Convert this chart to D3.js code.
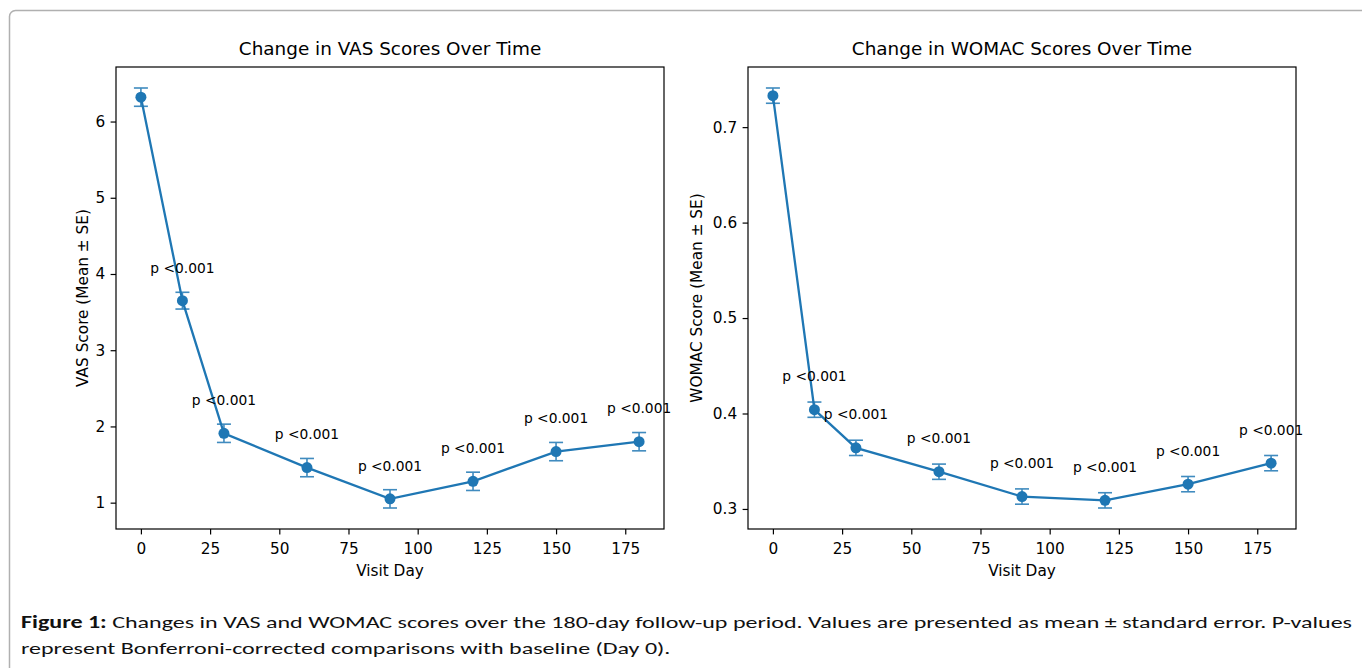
<!DOCTYPE html>
<meta charset="utf-8">
<html>
  <head>
    <style>
      body { margin: 0; background: #fff; }
      text { font-family: "DejaVu Sans", sans-serif; fill: #000; }
      .tick text { font-size: 15.3px; }
      .caption { font-family: Carlito, "Liberation Sans Narrow", Lato, "Open Sans", sans-serif; font-size: 17px; fill: #111; }
    </style>
    <script src="https://d3js.org/d3.v7.min.js"></script>
  </head>
  <body>
    <script>

      var width = 1362,
          height = 668;

      // data
      var days = [0, 15, 30, 60, 90, 120, 150, 180];
      var vasMean = [6.32, 3.65, 1.91, 1.46, 1.05, 1.28, 1.67, 1.80];
      var vasSE = [0.12, 0.11, 0.12, 0.12, 0.12, 0.12, 0.12, 0.12];
      var womacMean = [0.733, 0.404, 0.364, 0.339, 0.313, 0.309, 0.326, 0.348];
      var womacSE = [0.008, 0.008, 0.008, 0.008, 0.008, 0.008, 0.008, 0.008];
      var pLabels = ["", "p <0.001", "p <0.001", "p <0.001", "p <0.001", "p <0.001", "p <0.001", "p <0.001"];
      var xTicks = [0, 25, 50, 75, 100, 125, 150, 175];
      var vasTicks = [1, 2, 3, 4, 5, 6];
      var womacTicks = [0.3, 0.4, 0.5, 0.6, 0.7];

      var blue = "#1f77b4";

      var svg = d3.select("body").append("svg")
          .attr("width", width)
          .attr("height", height);

      // outer frame of the figure box
      svg.append("rect")
          .attr("x", 9.5).attr("y", 10.5)
          .attr("width", 1400).attr("height", 700)
          .attr("rx", 6).attr("ry", 6)
          .attr("fill", "none")
          .attr("stroke", "#b0b0b0")
          .attr("stroke-width", 1.5);

      function panel(opt) {
          var left = opt.left, right = opt.left + 548, top = 67, bottom = 529;

          var lo = d3.min(opt.mean, function(d, i) { return d - opt.se[i]; }),
              hi = d3.max(opt.mean, function(d, i) { return d + opt.se[i]; }),
              pad = (hi - lo) * 0.05;

          var x = d3.scaleLinear().domain([-9, 189]).range([left, right]);
          var y = d3.scaleLinear().domain([lo - pad, hi + pad]).range([bottom, top]);

          var g = svg.append("g");

          g.append("g")
              .attr("transform", "translate(0," + bottom + ")")
              .call(d3.axisBottom(x).tickValues(xTicks).tickSizeInner(5.4).tickSizeOuter(0).tickPadding(8.5))
              .call(function(a) { a.select(".domain").remove(); a.selectAll("line").attr("stroke-width", 1.2); });

          g.append("g")
              .attr("transform", "translate(" + left + ",0)")
              .call(d3.axisLeft(y).tickValues(opt.ticks).tickFormat(opt.fmt).tickSizeInner(5.4).tickSizeOuter(0).tickPadding(5.5))
              .call(function(a) { a.select(".domain").remove(); a.selectAll("line").attr("stroke-width", 1.2); });

          g.append("rect")
              .attr("x", left).attr("y", top)
              .attr("width", right - left).attr("height", bottom - top)
              .attr("fill", "none").attr("stroke", "#000").attr("stroke-width", 1.2);

          g.append("text")
              .attr("x", (left + right) / 2).attr("y", 55)
              .attr("text-anchor", "middle")
              .style("font-size", "18.4px")
              .text(opt.title);

          g.append("text")
              .attr("x", (left + right) / 2).attr("y", 576)
              .attr("text-anchor", "middle")
              .style("font-size", "15.3px")
              .text("Visit Day");

          g.append("text")
              .attr("transform", "translate(" + (left - opt.ylabOff) + "," + ((top + bottom) / 2) + ")rotate(-90)")
              .attr("text-anchor", "middle")
              .style("font-size", "15.3px")
              .text(opt.ylabel);

          var pts = days.map(function(d, i) { return { day: d, m: opt.mean[i], se: opt.se[i], p: pLabels[i] }; });

          g.append("path")
              .datum(pts)
              .attr("fill", "none")
              .attr("stroke", blue)
              .attr("stroke-width", 2.3)
              .attr("d", d3.line().x(function(d) { return x(d.day); }).y(function(d) { return y(d.m); }));

          var eb = g.selectAll(".eb").data(pts).enter().append("g")
              .attr("stroke", blue).attr("stroke-width", 1.6).attr("opacity", 0.85);
          eb.append("line")
              .attr("x1", function(d) { return x(d.day); }).attr("x2", function(d) { return x(d.day); })
              .attr("y1", function(d) { return y(d.m - d.se); }).attr("y2", function(d) { return y(d.m + d.se); });
          eb.append("line")
              .attr("x1", function(d) { return x(d.day) - 7; }).attr("x2", function(d) { return x(d.day) + 7; })
              .attr("y1", function(d) { return y(d.m - d.se); }).attr("y2", function(d) { return y(d.m - d.se); });
          eb.append("line")
              .attr("x1", function(d) { return x(d.day) - 7; }).attr("x2", function(d) { return x(d.day) + 7; })
              .attr("y1", function(d) { return y(d.m + d.se); }).attr("y2", function(d) { return y(d.m + d.se); });

          g.selectAll(".dot").data(pts).enter().append("circle")
              .attr("cx", function(d) { return x(d.day); })
              .attr("cy", function(d) { return y(d.m); })
              .attr("r", 5.5)
              .attr("fill", blue);

          g.selectAll(".plab").data(pts.filter(function(d) { return d.p; })).enter().append("text")
              .attr("x", function(d) { return x(d.day); })
              .attr("y", function(d) { return y(d.m + d.se + opt.pOff); })
              .attr("text-anchor", "middle")
              .style("font-size", "13.8px")
              .text(function(d) { return d.p; });
      }

      panel({ left: 116, mean: vasMean, se: vasSE, ticks: vasTicks, fmt: d3.format("d"),
              title: "Change in VAS Scores Over Time", ylabel: "VAS Score (Mean \u00b1 SE)", ylabOff: 28, pOff: 0.25 });
      panel({ left: 748, mean: womacMean, se: womacSE, ticks: womacTicks, fmt: d3.format(".1f"),
              title: "Change in WOMAC Scores Over Time", ylabel: "WOMAC Score (Mean \u00b1 SE)", ylabOff: 46, pOff: 0.022 });

      // caption
      var cap1 = svg.append("text").attr("class", "caption").attr("x", 21).attr("y", 628);
      cap1.append("tspan").style("font-weight", "bold").text("Figure 1:");
      cap1.append("tspan").text(" Changes in VAS and WOMAC scores over the 180-day follow-up period. Values are presented as mean \u00b1 standard error. P-values");
      var cap2 = svg.append("text").attr("class", "caption").attr("x", 21).attr("y", 654)
          .text("represent Bonferroni-corrected comparisons with baseline (Day 0).");

      // fit caption lines to the width they take in the figure
      var w1 = cap1.node().getComputedTextLength(), w2 = cap2.node().getComputedTextLength();
      cap1.attr("textLength", 1331).attr("lengthAdjust", "spacingAndGlyphs");
      cap2.attr("textLength", 1331 * w2 / w1).attr("lengthAdjust", "spacingAndGlyphs");

    </script>
  </body>
</html>
